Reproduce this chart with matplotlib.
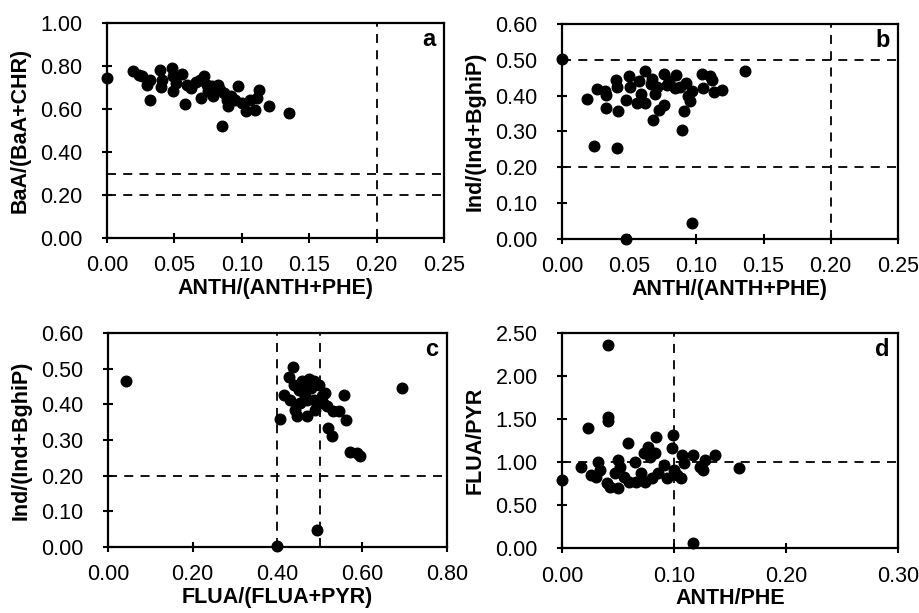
import numpy as np
import matplotlib.pyplot as plt
from matplotlib.ticker import FormatStrFormatter

plt.rcParams['font.family'] = ['Liberation Sans', 'DejaVu Sans']

# panel a: ANTH/(ANTH+PHE) vs BaA/(BaA+CHR)
a_x = [0.000, 0.019, 0.024, 0.026, 0.030, 0.032, 0.032, 0.039, 0.040, 0.041,
       0.048, 0.049, 0.049, 0.051, 0.056, 0.058, 0.059, 0.062, 0.066, 0.069,
       0.070, 0.072, 0.074, 0.075, 0.078, 0.079, 0.082, 0.084, 0.085, 0.087,
       0.089, 0.090, 0.092, 0.095, 0.097, 0.100, 0.103, 0.106, 0.110, 0.111,
       0.113, 0.120, 0.135]
a_y = [0.744, 0.775, 0.760, 0.755, 0.710, 0.735, 0.643, 0.780, 0.700, 0.736,
       0.790, 0.752, 0.682, 0.720, 0.764, 0.625, 0.713, 0.698, 0.724, 0.736,
       0.651, 0.752, 0.713, 0.682, 0.705, 0.659, 0.713, 0.690, 0.522, 0.674,
       0.643, 0.612, 0.659, 0.643, 0.705, 0.628, 0.589, 0.643, 0.597, 0.651,
       0.690, 0.616, 0.581]

# panel b: ANTH/(ANTH+PHE) vs Ind/(Ind+BghiP)
b_x = [0.000, 0.019, 0.026, 0.024, 0.032, 0.033, 0.033, 0.040, 0.041, 0.041,
       0.042, 0.048, 0.048, 0.050, 0.051, 0.056, 0.057, 0.059, 0.062, 0.062,
       0.066, 0.067, 0.068, 0.069, 0.071, 0.072, 0.076, 0.076, 0.078, 0.080,
       0.084, 0.085, 0.088, 0.089, 0.091, 0.092, 0.094, 0.095, 0.097, 0.097,
       0.104, 0.105, 0.110, 0.112, 0.113, 0.119, 0.136]
b_y = [0.503, 0.391, 0.418, 0.260, 0.412, 0.402, 0.365, 0.444, 0.425, 0.255,
       0.358, 0.001, 0.388, 0.455, 0.425, 0.379, 0.440, 0.404, 0.379, 0.470,
       0.433, 0.446, 0.332, 0.405, 0.425, 0.360, 0.374, 0.461, 0.430, 0.440,
       0.421, 0.458, 0.425, 0.304, 0.356, 0.436, 0.398, 0.384, 0.412, 0.045,
       0.461, 0.421, 0.455, 0.444, 0.409, 0.416, 0.469]

# panel c: FLUA/(FLUA+PYR) vs Ind/(Ind+BghiP)
c_x = [0.042, 0.398, 0.406, 0.416, 0.426, 0.436, 0.430, 0.438, 0.442, 0.446,
       0.450, 0.454, 0.458, 0.465, 0.469, 0.475, 0.479, 0.485, 0.489, 0.494,
       0.499, 0.504, 0.508, 0.512, 0.516, 0.520, 0.528, 0.532, 0.544, 0.556,
       0.561, 0.571, 0.587, 0.595, 0.693, 0.469, 0.485, 0.462]
c_y = [0.465, 0.002, 0.360, 0.427, 0.476, 0.506, 0.413, 0.455, 0.385, 0.366,
       0.441, 0.404, 0.464, 0.422, 0.366, 0.471, 0.446, 0.413, 0.385, 0.047,
       0.455, 0.422, 0.404, 0.432, 0.394, 0.334, 0.310, 0.380, 0.380, 0.427,
       0.357, 0.265, 0.264, 0.256, 0.446, 0.413, 0.464, 0.441]

# panel d: ANTH/PHE vs FLUA/PYR
d_x = [0.000, 0.017, 0.023, 0.026, 0.030, 0.032, 0.034, 0.040, 0.041, 0.041,
       0.041, 0.043, 0.047, 0.050, 0.050, 0.052, 0.055, 0.059, 0.060, 0.065,
       0.066, 0.071, 0.073, 0.074, 0.077, 0.079, 0.080, 0.083, 0.084, 0.086,
       0.091, 0.094, 0.098, 0.099, 0.100, 0.103, 0.106, 0.107, 0.109, 0.117,
       0.117, 0.123, 0.126, 0.128, 0.137, 0.158]
d_y = [0.792, 0.947, 1.391, 0.850, 0.831, 1.005, 0.908, 0.761, 2.357, 1.519,
       1.480, 0.715, 0.869, 0.696, 1.024, 0.947, 0.831, 1.217, 0.773, 1.005,
       0.773, 0.869, 1.101, 0.773, 1.178, 1.063, 0.811, 1.101, 1.294, 0.869,
       0.966, 0.811, 1.159, 1.314, 0.908, 0.850, 0.811, 1.082, 0.985, 0.058,
       1.082, 0.947, 0.908, 1.024, 1.082, 0.927]

panels = [
    dict(x=a_x, y=a_y, xlim=(0, 0.25), ylim=(0, 1.0), xt=np.arange(0, 0.26, 0.05),
         yt=np.arange(0, 1.01, 0.2), hl=[0.2, 0.3], vl=[0.2],
         xl='ANTH/(ANTH+PHE)', yl='BaA/(BaA+CHR)', tag='a',
         rect=[0.1164, 0.6117, 0.3667, 0.3508]),
    dict(x=b_x, y=b_y, xlim=(0, 0.25), ylim=(0, 0.6), xt=np.arange(0, 0.26, 0.05),
         yt=np.arange(0, 0.61, 0.1), hl=[0.2, 0.5], vl=[0.2],
         xl='ANTH/(ANTH+PHE)', yl='Ind/(Ind+BghiP)', tag='b',
         rect=[0.6115, 0.6101, 0.3655, 0.3508]),
    dict(x=c_x, y=c_y, xlim=(0, 0.8), ylim=(0, 0.6), xt=np.arange(0, 0.81, 0.2),
         yt=np.arange(0, 0.61, 0.1), hl=[0.2], vl=[0.4, 0.5],
         xl='FLUA/(FLUA+PYR)', yl='Ind/(Ind+BghiP)', tag='c',
         rect=[0.1175, 0.1077, 0.3689, 0.3491]),
    dict(x=d_x, y=d_y, xlim=(0, 0.3), ylim=(0, 2.5), xt=np.arange(0, 0.31, 0.1),
         yt=np.arange(0, 2.51, 0.5), hl=[1.0], vl=[0.1],
         xl='ANTH/PHE', yl='FLUA/PYR', tag='d',
         rect=[0.6115, 0.1055, 0.3655, 0.3518]),
]

fig = plt.figure(figsize=(9.19, 6.13), dpi=100)
for p in panels:
    ax = fig.add_axes(p['rect'])
    ax.scatter(p['x'], p['y'], s=58, color='black', zorder=3, clip_on=False)
    for h in p['hl']:
        ax.axhline(h, color='black', ls=(0, (5, 4)), lw=1.3)
    for v in p['vl']:
        ax.axvline(v, color='black', ls=(0, (5, 4)), lw=1.3)
    ax.set_xlim(p['xlim'])
    ax.set_ylim(p['ylim'])
    ax.set_xticks(p['xt'])
    ax.set_yticks(p['yt'])
    ax.xaxis.set_major_formatter(FormatStrFormatter('%.2f'))
    ax.yaxis.set_major_formatter(FormatStrFormatter('%.2f'))
    ax.tick_params(labelsize=15.5, length=7, width=1.5, direction='inout', colors='black')
    ax.tick_params(axis='x', pad=9)
    ax.tick_params(axis='y', pad=14)
    for sp in ax.spines.values():
        sp.set_linewidth(1.6)
    ax.set_xlabel(p['xl'], fontsize=15.5, fontweight='bold', labelpad=1)
    ax.set_ylabel(p['yl'], fontsize=15.5, fontweight='bold', labelpad=7)
    ax.text(0.975, 0.975, p['tag'], transform=ax.transAxes, ha='right', va='top',
            fontsize=17, fontweight='bold')

plt.savefig('out.png', dpi=100)
